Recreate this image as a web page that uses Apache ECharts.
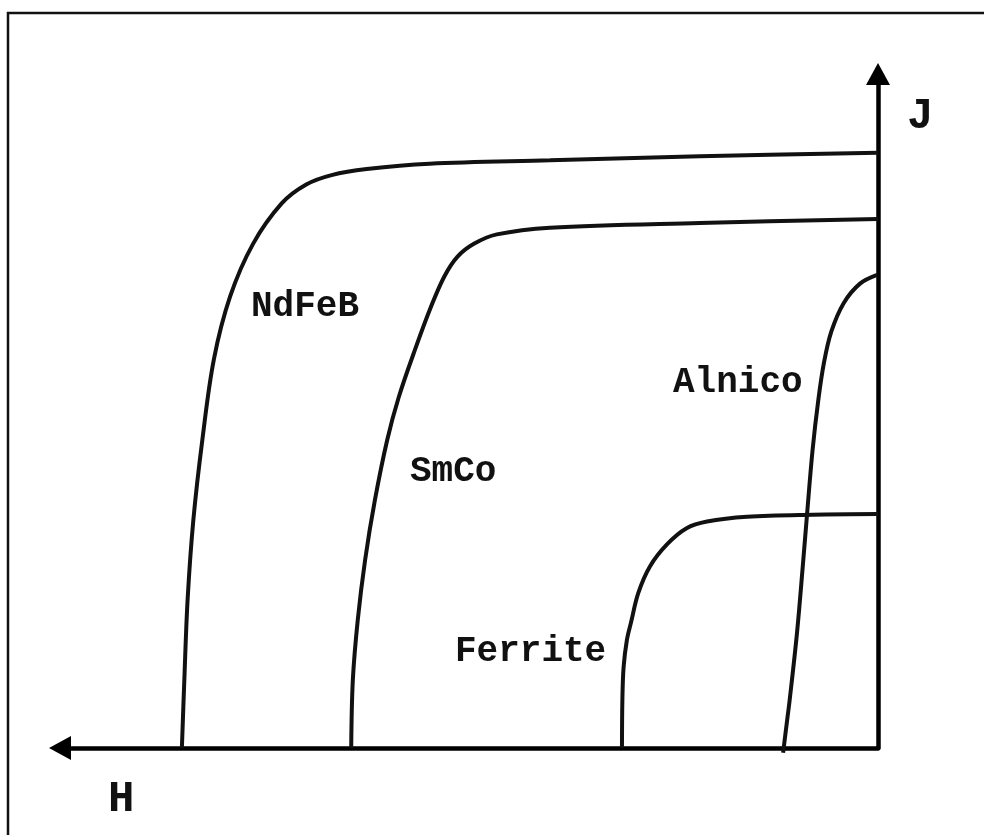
<!DOCTYPE html>
<html>
<head>
<meta charset="utf-8">
<script src="https://cdn.jsdelivr.net/npm/echarts@6/dist/echarts.min.js"></script>
<style>
 html, body { margin: 0; padding: 0; background: #fff; }
 #chart { width: 984px; height: 835px; }
</style>
</head>
<body>
<div id="chart"></div>
<script>
// demagnetisation curves, [H, J] with H growing to the left
const ndfeb = [
 [85.1, 0], [84.8, 10.1], [84.4, 22.0], [83.7, 33.8], [82.6, 45.7], [81.2, 57.6],
 [79.2, 67.0], [76.4, 74.8], [72.9, 80.8], [69.9, 83.6], [66.8, 85.0], [62.5, 85.9],
 [54.8, 86.7], [40.1, 87.2], [21.8, 87.8], [0, 88.3],
];
const smco = [
 [64.4, 0], [64.2, 10.1], [63.6, 19.0], [62.7, 27.9], [61.5, 36.8], [60.0, 45.7],
 [58.6, 52.0], [56.6, 59.1], [54.6, 65.6], [53.0, 70.0], [51.4, 72.9], [49.4, 74.8],
 [46.6, 76.2], [40.1, 77.2], [21.8, 77.9], [0, 78.5],
];
const alnico = [
 [11.6, -0.7], [11.1, 4.2], [10.8, 7.1], [9.9, 17.1], [9.2, 26.9], [8.7, 34.3],
 [8.0, 44.2], [7.3, 51.6], [6.6, 57.2], [5.7, 61.8], [4.2, 66.0], [2.2, 68.9], [0.1, 70.2],
];
const ferrite = [
 [31.3, 0], [31.25, 7.1], [31.1, 12.0], [30.7, 16.0], [30.2, 18.6], [29.3, 23.0],
 [27.9, 26.9], [25.8, 30.2], [23.4, 32.6], [20.9, 33.6], [16.0, 34.3], [8.0, 34.6], [0, 34.7],
];
const curveNames = ['NdFeB', 'SmCo', 'Alnico', 'Ferrite'];
const axisNames = ['H', 'J'];

const chart = echarts.init(document.getElementById('chart'), null, { renderer: 'canvas' });

const labelFont = { fontFamily: 'Liberation Mono', fontWeight: 'bold', fontSize: 36, fill: '#111' };
const axisFont = { fontFamily: 'Liberation Mono', fontWeight: 'bold', fontSize: 44, fill: '#111' };

const curve = (name, data) => ({
 name: name,
 type: 'line',
 data: data,
 smooth: 0.35,
 symbol: 'none',
 clip: false,
 lineStyle: { color: '#111', width: 4 },
});

const label = (text, x, y, font) => ({
 type: 'text',
 left: x,
 top: y,
 style: { text: text, ...font },
});

chart.setOption({
 backgroundColor: '#fff',
 animation: false,
 grid: { left: 60, right: 106, top: 74, bottom: 87 },
 xAxis: {
  type: 'value',
  inverse: true,
  min: 0,
  max: 100,
  axisLine: {
   lineStyle: { color: '#000', width: 4.5 },
   symbol: ['triangle', 'none'],
   symbolSize: [24, 22],
  },
  axisTick: { show: false },
  axisLabel: { show: false },
  splitLine: { show: false },
 },
 yAxis: {
  type: 'value',
  position: 'right',
  min: 0,
  max: 100,
  axisLine: {
   show: true,
   lineStyle: { color: '#000', width: 4.5 },
   symbol: ['none', 'triangle'],
   symbolSize: [24, 22],
  },
  axisTick: { show: false },
  axisLabel: { show: false },
  splitLine: { show: false },
 },
 graphic: [
  {
   type: 'rect',
   shape: { x: 8, y: 13, width: 1100, height: 1000 },
   style: { fill: 'none', stroke: '#111', lineWidth: 2.5 },
  },
  label(curveNames[0], 251, 289, labelFont),
  label(curveNames[1], 410, 454, labelFont),
  label(curveNames[2], 673, 365, labelFont),
  label(curveNames[3], 455, 634, labelFont),
  label(axisNames[1], 907, 95, axisFont),
  label(axisNames[0], 108, 778, axisFont),
 ],
 series: [
  curve(curveNames[0], ndfeb),
  curve(curveNames[1], smco),
  curve(curveNames[2], alnico),
  curve(curveNames[3], ferrite),
 ],
});
</script>
</body>
</html>
